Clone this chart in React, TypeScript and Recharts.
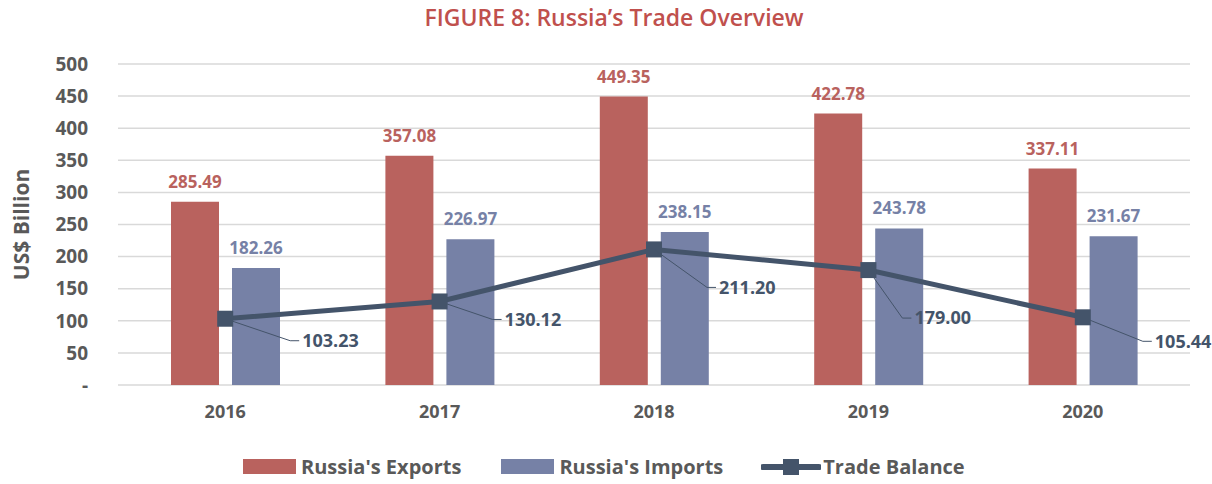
import { ComposedChart, Bar, Line, XAxis, YAxis, CartesianGrid, LabelList } from "recharts";

const years = ["2016", "2017", "2018", "2019", "2020"];
const exportsBn = [285.49, 357.08, 449.35, 422.78, 337.11];
const importsBn = [182.26, 226.97, 238.15, 243.78, 231.67];
const balanceBn = [103.23, 130.12, 211.2, 179.0, 105.44];
const yTicks = [0, 50, 100, 150, 200, 250, 300, 350, 400, 450, 500];

const data = years.map((year, i) => ({
  year,
  exports: exportsBn[i],
  imports: importsBn[i],
  balance: balanceBn[i],
}));

const RED = "#B9625E";
const BLUE = "#7681A6";
const NAVY = "#44546A";
const GRAY = "#595959";
const FONT = "'Open Sans', sans-serif";

// where each trade balance callout sits relative to its marker
const calloutOffsets = [
  [65, 22],
  [53, 18],
  [53, 38],
  [34, 48],
  [60, 24],
];

function SquareDot(props: any) {
  const { cx, cy } = props;
  if (cx == null || cy == null) return null;
  return <rect x={cx - 8} y={cy - 8} width={16} height={16} fill={NAVY} />;
}

function Callout(props: any) {
  const { x, y, value, index } = props;
  const [dx, dy] = calloutOffsets[index] || [60, 24];
  const cx = x + dx;
  const cy = y + dy;
  return (
    <g>
      <polyline
        points={`${x},${y} ${cx},${cy} ${cx + 9},${cy}`}
        fill="none"
        stroke={NAVY}
        strokeWidth={1}
      />
      <text
        x={cx + 12}
        y={cy}
        dy="0.35em"
        fill={NAVY}
        fontSize={18}
        fontWeight={700}
        fontFamily={FONT}
      >
        {Number(value).toFixed(2)}
      </text>
    </g>
  );
}

const yTickFmt = (v: number) => (v === 0 ? "-" : String(v));

function LegendItem({
  kind,
  color,
  label,
  gapAfter,
}: {
  kind: "bar" | "line";
  color: string;
  label: string;
  gapAfter: number;
}) {
  return (
    <div style={{ display: "flex", alignItems: "center", marginRight: gapAfter }}>
      {kind === "bar" ? (
        <div style={{ width: 53, height: 15, background: color, marginRight: 5 }} />
      ) : (
        <svg width={60} height={18} style={{ marginRight: 2 }}>
          <line x1={2} y1={9} x2={58} y2={9} stroke={color} strokeWidth={6} strokeLinecap="round" />
          <rect x={22} y={1} width={16} height={16} fill={color} />
        </svg>
      )}
      <span style={{ fontSize: 20, fontWeight: 700, color: GRAY, whiteSpace: "nowrap" }}>{label}</span>
    </div>
  );
}

export default function App() {
  return (
    <div
      style={{
        position: "absolute",
        left: 0,
        top: 0,
        width: 1212,
        height: 484,
        background: "#fff",
        fontFamily: FONT,
      }}
    >
      <div
        style={{
          position: "absolute",
          top: 1,
          left: 0,
          width: 1228,
          textAlign: "center",
          color: "#C0504D",
          fontSize: 23,
          fontWeight: 600,
        }}
      >
        FIGURE 8: Russia’s Trade Overview
      </div>
      <ComposedChart
        width={1212}
        height={484}
        data={data}
        margin={{ top: 64, right: 22, bottom: 59, left: 0 }}
        barGap={13}
      >
        <CartesianGrid vertical={false} stroke="#D9D9D9" strokeWidth={1.5} />
        <XAxis
          dataKey="year"
          axisLine={false}
          tickLine={false}
          height={40}
          tick={{ fill: GRAY, fontSize: 18, fontWeight: 700, fontFamily: FONT }}
          dy={12}
        />
        <YAxis
          domain={[0, 500]}
          ticks={yTicks}
          tickFormatter={yTickFmt}
          axisLine={false}
          tickLine={false}
          width={118}
          interval={0}
          tick={{ fill: GRAY, fontSize: 19, fontWeight: 700, fontFamily: FONT }}
          dx={-22}
          label={{
            value: "US$ Billion",
            angle: -90,
            position: "insideLeft",
            offset: 22,
            style: { fill: GRAY, fontSize: 21, fontWeight: 700, fontFamily: FONT, textAnchor: "middle" },
          }}
        />
        <Bar dataKey="exports" fill={RED} barSize={48} isAnimationActive={false}>
          <LabelList
            dataKey="exports"
            position="top"
            offset={14}
            formatter={(v: any) => Number(v).toFixed(2)}
            style={{ fill: RED, fontSize: 17, fontWeight: 700, fontFamily: FONT }}
          />
        </Bar>
        <Bar dataKey="imports" fill={BLUE} barSize={48} isAnimationActive={false}>
          <LabelList
            dataKey="imports"
            position="top"
            offset={14}
            formatter={(v: any) => Number(v).toFixed(2)}
            style={{ fill: BLUE, fontSize: 17, fontWeight: 700, fontFamily: FONT }}
          />
        </Bar>
        <Line
          dataKey="balance"
          type="linear"
          stroke={NAVY}
          strokeWidth={5}
          dot={<SquareDot />}
          activeDot={false}
          isAnimationActive={false}
        >
          <LabelList dataKey="balance" content={<Callout />} />
        </Line>
      </ComposedChart>
      <div
        style={{
          position: "absolute",
          top: 453,
          left: 243,
          display: "flex",
          alignItems: "center",
        }}
      >
        <LegendItem kind="bar" color={RED} label="Russia's Exports" gapAfter={40} />
        <LegendItem kind="bar" color={BLUE} label="Russia's Imports" gapAfter={38} />
        <LegendItem kind="line" color={NAVY} label="Trade Balance" gapAfter={0} />
      </div>
    </div>
  );
}
